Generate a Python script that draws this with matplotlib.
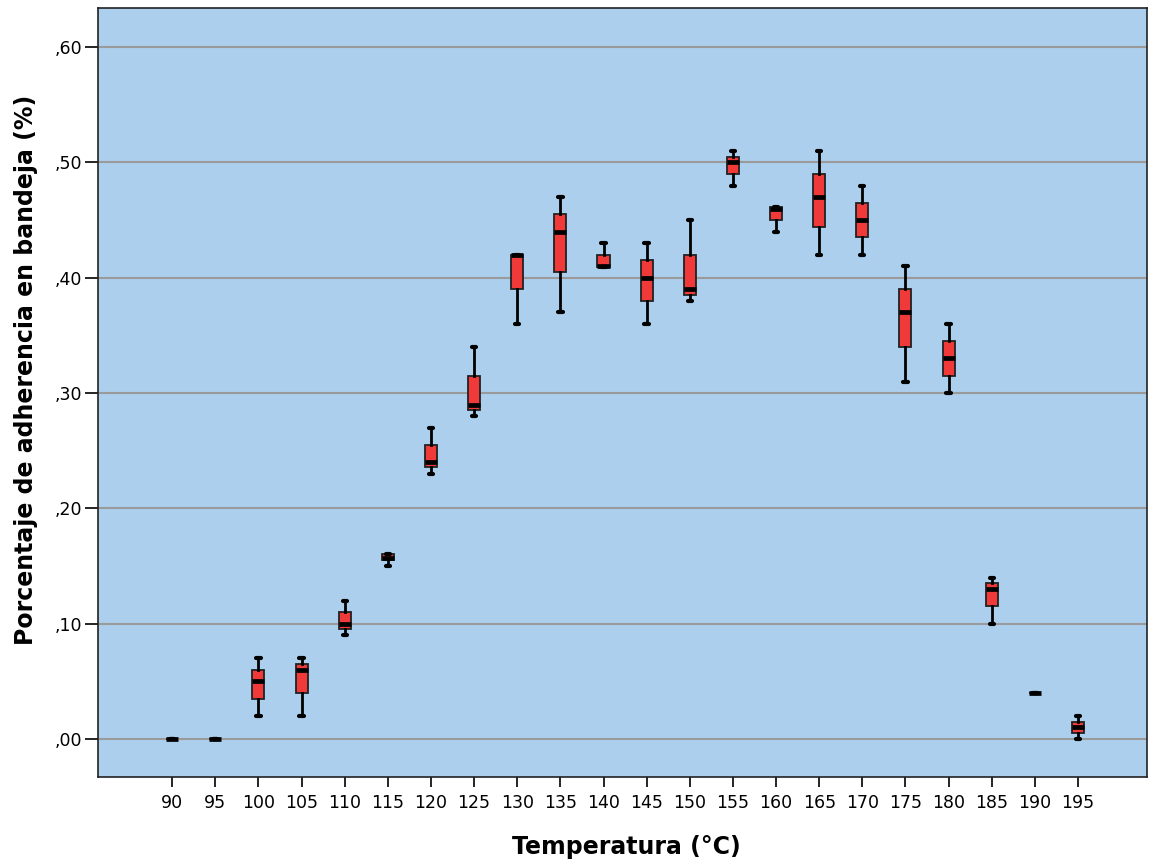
import matplotlib
matplotlib.use("Agg")
import matplotlib.pyplot as plt
from matplotlib.ticker import FuncFormatter

plt.rcParams["font.family"] = ["DejaVu Sans"]

temperatures = [90, 95, 100, 105, 110, 115, 120, 125, 130, 135, 140,
                145, 150, 155, 160, 165, 170, 175, 180, 185, 190, 195]
whisker_low = [0.00, 0.00, 0.020, 0.020, 0.090, 0.150, 0.230, 0.280, 0.360, 0.370, 0.409,
               0.360, 0.380, 0.480, 0.440, 0.420, 0.420, 0.310, 0.300, 0.100, 0.040, 0.000]
q1 = [0.00, 0.00, 0.035, 0.040, 0.095, 0.155, 0.236, 0.285, 0.390, 0.405, 0.409,
      0.380, 0.385, 0.490, 0.450, 0.444, 0.435, 0.340, 0.315, 0.115, 0.040, 0.005]
median = [0.00, 0.00, 0.050, 0.060, 0.100, 0.157, 0.240, 0.290, 0.420, 0.440, 0.410,
          0.400, 0.390, 0.500, 0.460, 0.470, 0.450, 0.370, 0.330, 0.130, 0.040, 0.010]
q3 = [0.00, 0.00, 0.060, 0.065, 0.110, 0.160, 0.255, 0.315, 0.420, 0.455, 0.420,
      0.415, 0.420, 0.505, 0.461, 0.490, 0.465, 0.390, 0.345, 0.135, 0.040, 0.015]
whisker_high = [0.00, 0.00, 0.070, 0.070, 0.120, 0.160, 0.270, 0.340, 0.420, 0.470, 0.430,
                0.430, 0.450, 0.510, 0.461, 0.510, 0.480, 0.410, 0.360, 0.140, 0.040, 0.020]

stats = []
for t, lo, a, m, b, hi in zip(temperatures, whisker_low, q1, median, q3, whisker_high):
    stats.append(dict(label=str(t), whislo=lo, q1=a, med=m, q3=b, whishi=hi, fliers=[]))

fig = plt.figure(figsize=(11.5, 8.59), dpi=100)
ax = fig.add_axes([0.0852, 0.0955, 0.9122, 0.8952])
ax.set_facecolor("#ABCFEC")

positions = list(range(len(temperatures)))
ax.bxp(stats, positions=positions, widths=0.28, patch_artist=True,
       showfliers=False,
       boxprops=dict(facecolor="#F03A3A", edgecolor="#222222", linewidth=1.3),
       medianprops=dict(color="black", linewidth=3.4, solid_capstyle="butt"),
       whiskerprops=dict(color="black", linewidth=2.0),
       capprops=dict(color="black", linewidth=3.0, solid_capstyle="round"),
       capwidths=0.1, zorder=3)

ax.set_ylim(-0.033, 0.634)
ax.set_xlim(-1.72, 22.6)
ax.set_yticks([0.0, 0.1, 0.2, 0.3, 0.4, 0.5, 0.6])
ax.yaxis.set_major_formatter(FuncFormatter(lambda v, p: f"{v:.2f}".replace("0.", ",")))
ax.set_xticks(positions)
ax.set_xticklabels([str(t) for t in temperatures])
ax.yaxis.grid(True, color="#9A9A9A", linewidth=1.5, zorder=1)
ax.set_axisbelow(True)

ax.tick_params(axis="y", direction="out", length=9.5, width=1.2, labelsize=12.5, pad=2)
ax.tick_params(axis="x", direction="out", length=7.5, width=1.2, labelsize=12.5, pad=5)
for s in ax.spines.values():
    s.set_color("#222222")
    s.set_linewidth(1.2)

ax.set_xlabel("Temperatura (°C)", fontsize=17, fontweight="bold")
ax.set_ylabel("Porcentaje de adherencia en bandeja (%)", fontsize=17, fontweight="bold")
ax.xaxis.set_label_coords(0.504, -0.075, transform=ax.transAxes)
ax.yaxis.set_label_coords(-0.0572, 0.53, transform=ax.transAxes)

fig.savefig("out.png", dpi=100)
